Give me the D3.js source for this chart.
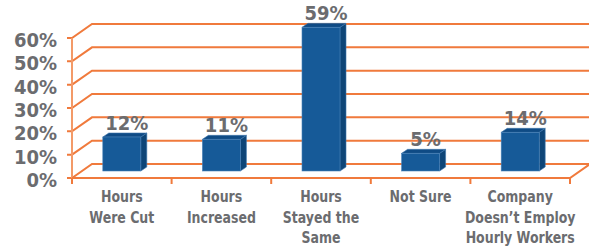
<!DOCTYPE html>
<html>
<head>
<meta charset="utf-8">
<script src="https://cdn.jsdelivr.net/npm/d3@7"></script>
<style>
  body { margin: 0; background: #fff; }
  svg { display: block; }
  text { font-family: "DejaVu Sans Condensed", sans-serif; font-stretch: condensed; font-weight: bold; fill: #6b6c6f; }
</style>
</head>
<body>
<div id="chart"></div>
<script>
"use strict";
const categories = [
    ["Hours", "Were Cut"],
    ["Hours", "Increased"],
    ["Hours", "Stayed the", "Same"],
    ["Not Sure"],
    ["Company", "Doesn\u2019t Employ", "Hourly Workers"]
];
const values = [12, 11, 59, 5, 14];
const yTicks = [0, 10, 20, 30, 40, 50, 60];

(function() {
    const size = { width: 589, height: 247 };
    const plot = { left: 72, right: 570, top: 38, bottom: 178 };
    const depth = { dx: 20, dy: -14 };   // back wall offset
    const bar = { width: 38, dx: 6, dy: -4, floor: 7 };
    const orange = "#f07a3c";

    const svg = d3.select("#chart").append("svg")
        .attr("width", size.width)
        .attr("height", size.height);

    const yScale = d3.scaleLinear()
        .domain([0, 60])
        .range([plot.bottom, plot.top]);

    const xScale = d3.scaleBand()
        .domain(d3.range(categories.length))
        .range([plot.left, plot.right]);

    const grid = svg.append("g")
        .attr("fill", "none")
        .attr("stroke", orange)
        .attr("stroke-width", 2);

    // back wall gridlines + side wall diagonals
    yTicks.forEach(function(t) {
        let y = yScale(t);
        grid.append("path")
            .attr("d", "M" + (plot.left - 5) + "," + y + "H" + plot.left +
                "L" + (plot.left + depth.dx) + "," + (y + depth.dy) + "H" + size.width);
    });

    // left axis
    grid.append("line")
        .attr("x1", plot.left).attr("x2", plot.left)
        .attr("y1", yScale(60)).attr("y2", plot.bottom + 5)
        .attr("stroke", "#f39a68");

    // floor front edge and right diagonal
    grid.append("path")
        .attr("d", "M" + plot.left + "," + plot.bottom + "H" + plot.right +
            "L" + (plot.right + depth.dx) + "," + (plot.bottom + depth.dy));

    // category ticks
    d3.range(categories.length + 1).forEach(function(i) {
        let x = i < categories.length ? xScale(i) : plot.right;
        grid.append("line")
            .attr("x1", x).attr("x2", x)
            .attr("y1", plot.bottom).attr("y2", plot.bottom + 6);
    });

    // y labels
    svg.append("g").selectAll("text")
        .data(yTicks)
        .enter()
        .append("text")
            .attr("x", 57)
            .attr("y", d => yScale(d) + 9)
            .attr("text-anchor", "end")
            .style("font-size", "20px")
            .text(d => d + "%");

    // bars
    const bars = svg.append("g").selectAll("g")
        .data(values)
        .enter()
        .append("g");

    function x0(i) { return xScale(i) + xScale.bandwidth() / 2 - bar.width / 2; }
    function yTop(v) { return yScale(v) + depth.dy + 1; }
    const yBot = plot.bottom - bar.floor;

    // side face
    bars.append("path")
        .attr("d", function(d, i) {
            let x = x0(i) + bar.width;
            return "M" + x + "," + yBot + "V" + yTop(d) +
                "l" + bar.dx + "," + bar.dy + "V" + (yBot + bar.dy) + "Z";
        })
        .attr("fill", "#0e4577")
        .attr("stroke", "#3f77ad")
        .attr("stroke-width", 0.6);

    // top face
    bars.append("path")
        .attr("d", function(d, i) {
            let x = x0(i);
            return "M" + x + "," + yTop(d) + "l" + bar.dx + "," + bar.dy +
                "h" + bar.width + "l" + (-bar.dx) + "," + (-bar.dy) + "Z";
        })
        .attr("fill", "#0f4b85")
        .attr("stroke", "#3f77ad")
        .attr("stroke-width", 0.6);

    // front face
    bars.append("rect")
        .attr("x", (d, i) => x0(i))
        .attr("y", d => yTop(d))
        .attr("width", bar.width)
        .attr("height", d => yBot - yTop(d))
        .attr("fill", "#165a98")
        .attr("stroke", "#4a82b8")
        .attr("stroke-width", 0.6);

    // value labels
    bars.append("text")
        .attr("x", (d, i) => x0(i) + bar.width / 2 + 5)
        .attr("y", d => yTop(d) + bar.dy - 3)
        .attr("text-anchor", "middle")
        .style("font-size", "20px")
        .text(d => d + "%");

    // category labels (squeezed a little to look like a condensed face)
    svg.append("g").selectAll("text")
        .data(categories)
        .enter()
        .append("text")
            .attr("text-anchor", "middle")
            .attr("transform", (d, i) => "translate(" + (xScale(i) + xScale.bandwidth() / 2) + ",0) scale(0.87,1)")
            .style("font-size", "16px")
            .each(function(lines) {
                d3.select(this).selectAll("tspan")
                    .data(lines)
                    .enter()
                    .append("tspan")
                        .attr("x", 0)
                        .attr("y", (l, j) => 202 + j * 20.7)
                        .text(l => l);
            });
})();
</script>
</body>
</html>
